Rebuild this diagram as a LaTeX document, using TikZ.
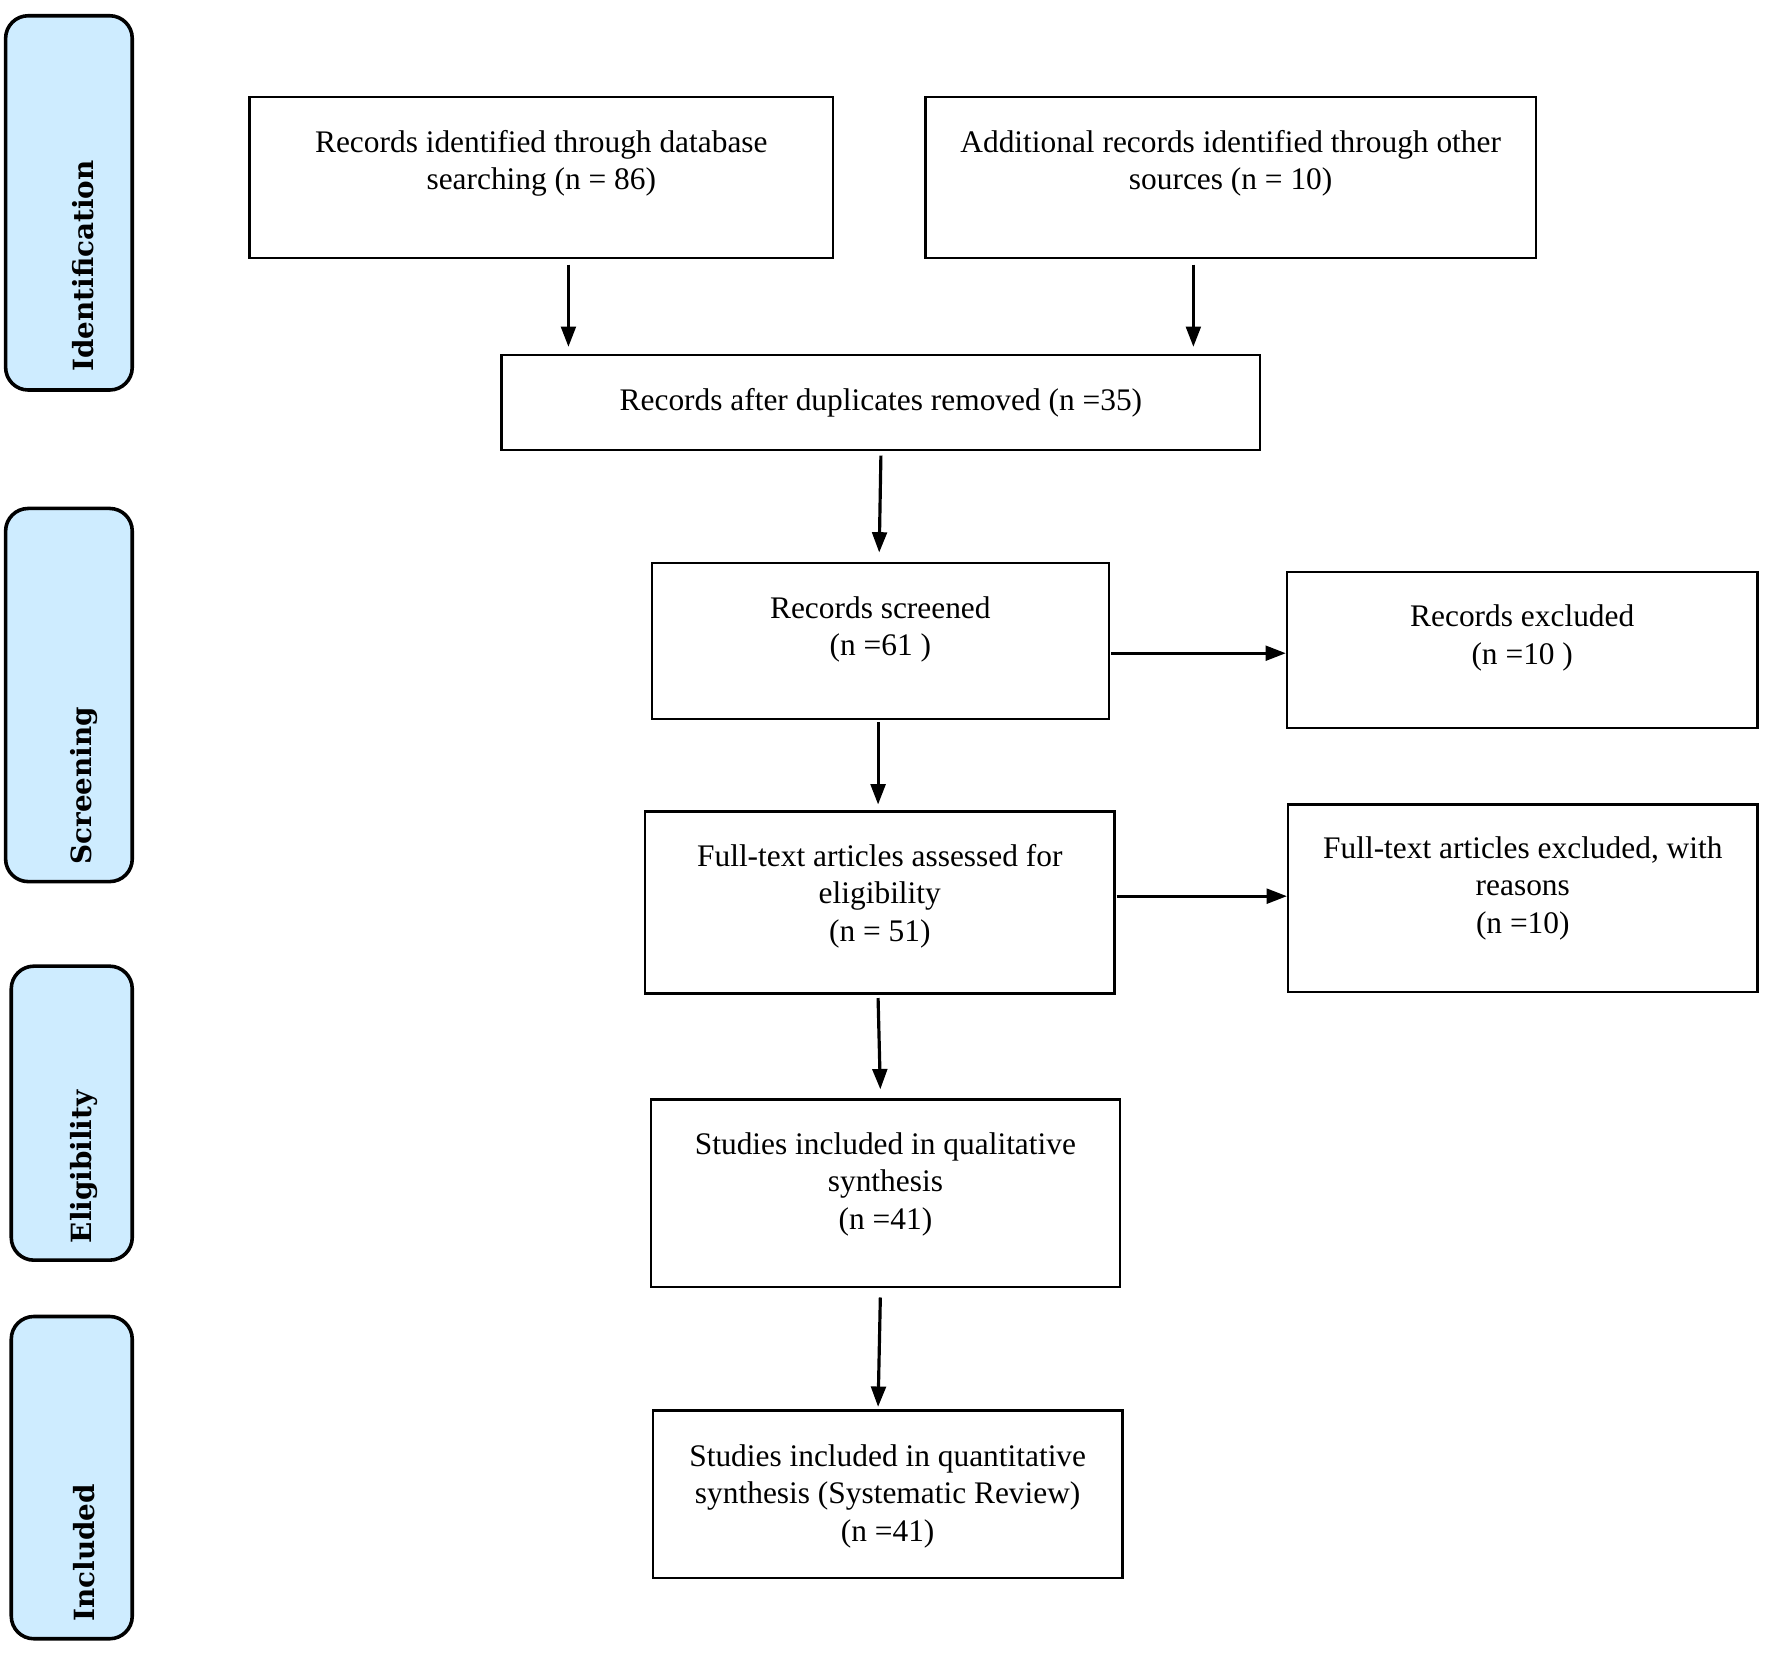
\documentclass[tikz,border=0pt]{standalone}
\usepackage{fontspec}
\setmainfont{Liberation Serif}
\newfontfamily\phasefont{DejaVu Serif}
\usetikzlibrary{arrows.meta,calc}
\definecolor{phaseblue}{RGB}{206,236,255}

\begin{document}
\begin{tikzpicture}[x=0.01cm, y=-0.01cm,
    box/.style={draw, line width=0.6pt, align=center, inner sep=0pt, font=\fontsize{7.9}{9.4}\selectfont},
    phase/.style={draw, line width=0.9pt, rounded corners=0.2cm, fill=phaseblue, inner sep=0pt},
    phasetext/.style={rotate=90, anchor=west, inner sep=0pt, font=\phasefont\bfseries\fontsize{7}{8}\selectfont},
    arr/.style={line width=0.8pt, -{Triangle[length=0.18cm, width=0.13cm]}}]

                    \useasboundingbox (0,0) rectangle (1568,1462);

                    \node[phase, minimum width=1.12cm, minimum height=3.31cm] (ph1) at (61,179.5) {};
                    \node[phase, minimum width=1.12cm, minimum height=3.30cm] (ph2) at (61,615) {};
                    \node[phase, minimum width=1.07cm, minimum height=2.60cm] (ph3) at (63.5,985) {};
                    \node[phase, minimum width=1.07cm, minimum height=2.85cm] (ph4) at (63.5,1307.5) {};
                    \node[phasetext] (lab1) at ($(ph1.south)+(13,-17)$) {Identification};
                    \node[phasetext] (lab2) at ($(ph2.south)+(13,-16)$) {Screening};
                    \node[phasetext] (lab3) at ($(ph3.south)+(11,-16)$) {Eligibility};
                    \node[phasetext] (lab4) at ($(ph4.south)+(11,-16)$) {Included};

                    \node[box, minimum width=5.16cm, minimum height=1.42cm, text depth=8.8pt] (db) at (479,157) {Records identified through database\\searching (n = 86)};
                    \node[box, minimum width=5.40cm, minimum height=1.42cm, text depth=8.8pt] (other) at (1089,157) {Additional records identified through other\\sources (n = 10)};
                    \node[box, minimum width=6.71cm, minimum height=0.84cm, text depth=1.7pt] (dup) at (779.5,356) {Records after duplicates removed (n =35)};
                    \node[box, minimum width=4.04cm, minimum height=1.38cm, text depth=7.4pt] (scr) at (779,567) {Records screened\\(n =61 )};
                    \node[box, minimum width=4.16cm, minimum height=1.38cm, text depth=7.7pt] (rexc) at (1347,575) {Records excluded\\(n =10 )};
                    \node[box, minimum width=4.15cm, minimum height=1.61cm, text depth=4.8pt] (full) at (778.5,798.5) {Full-text articles assessed for\\eligibility\\(n = 51)};
                    \node[box, minimum width=4.15cm, minimum height=1.66cm, text depth=6.8pt] (fexc) at (1347.5,795) {Full-text articles excluded, with\\reasons\\(n =10)};
                    \node[box, minimum width=4.15cm, minimum height=1.66cm, text depth=6.3pt] (qual) at (783.5,1056) {Studies included in qualitative\\synthesis\\(n =41)};
                    \node[box, minimum width=4.15cm, minimum height=1.48cm, text depth=0.6pt] (quant) at (785.5,1322) {Studies included in quantitative\\synthesis (Systematic Review)\\(n =41)};

                    \draw[arr] ($(db.south)+(24,5)$) -- ($(db.south |- dup.north)+(24,-6)$);
                    \draw[arr] ($(other.south)+(-33,5)$) -- ($(other.south |- dup.north)+(-33,-6)$);
                    \draw[arr] ($(dup.south)+(0,4)$) -- ($(scr.north)+(-1,-8)$);
                    \draw[arr] ($(scr.south)+(-2,2)$) -- ($(full.north)+(-1.5,-5)$);
                    \draw[arr] ($(full.south)+(-1.5,3)$) -- ($(qual.north)+(-4.5,-8)$);
                    \draw[arr] ($(qual.south)+(-4.5,8)$) -- ($(quant.north)+(-8.5,-2)$);
                    \draw[arr] ($(scr.east)+(1,11)$) -- ($(scr.east -| rexc.west)+(0,11)$);
                    \draw[arr] ($(full.east)+(1,-5.5)$) -- ($(full.east -| fexc.west)+(0,-5.5)$);
                \end{tikzpicture}
\end{document}
